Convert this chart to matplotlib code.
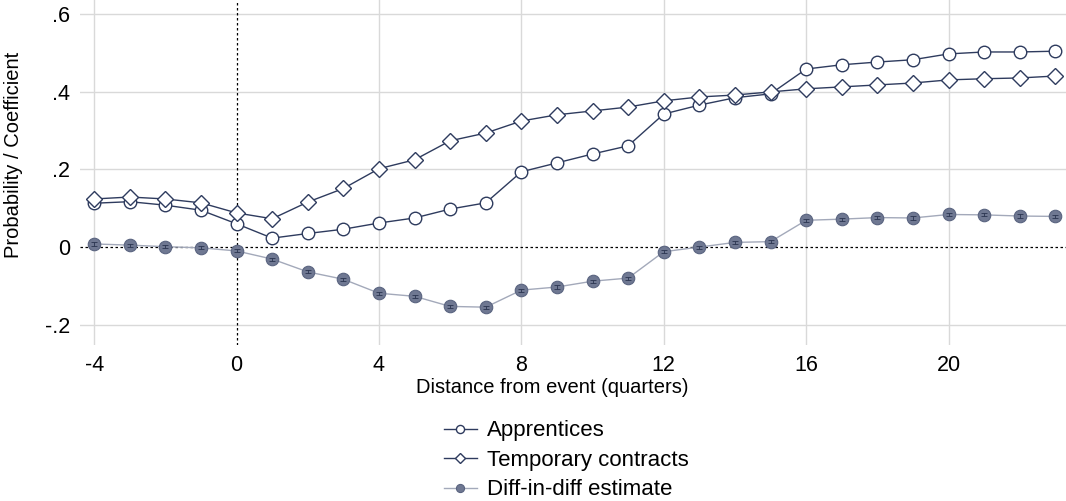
import numpy as np
import matplotlib.pyplot as plt

plt.rcParams['font.family'] = ['Liberation Sans', 'DejaVu Sans']
plt.rcParams['axes.unicode_minus'] = False

quarters = np.arange(-4, 24)

apprentices = [0.113, 0.117, 0.108, 0.095, 0.060, 0.023, 0.035, 0.046, 0.062, 0.075,
               0.098, 0.114, 0.194, 0.217, 0.240, 0.261, 0.343, 0.366, 0.385, 0.395,
               0.459, 0.470, 0.477, 0.483, 0.498, 0.503, 0.503, 0.505]
temporary = [0.124, 0.129, 0.124, 0.114, 0.088, 0.073, 0.116, 0.151, 0.202, 0.225,
             0.274, 0.294, 0.325, 0.341, 0.351, 0.361, 0.377, 0.387, 0.392, 0.400,
             0.408, 0.413, 0.418, 0.423, 0.431, 0.434, 0.436, 0.441]
did = [0.008, 0.005, 0.001, -0.002, -0.010, -0.031, -0.064, -0.083, -0.119, -0.127,
       -0.153, -0.155, -0.111, -0.103, -0.088, -0.080, -0.012, 0.000, 0.012, 0.014,
       0.069, 0.072, 0.076, 0.075, 0.084, 0.083, 0.080, 0.079]
did_se = [0.004] * len(did)

ytick_vals = [-0.2, 0, 0.2, 0.4, 0.6]
ytick_labels = ['-.2', '0', '.2', '.4', '.6']
xtick_vals = [-4, 0, 4, 8, 12, 16, 20]

navy = '#2e3b5e'

fig = plt.figure(figsize=(10.66, 5.01), dpi=100)
ax = fig.add_axes([0.075, 0.311, 0.925, 0.689])

ax.plot(quarters, apprentices, color=navy, lw=1.0, marker='o', ms=9,
        mfc='white', mec=navy, mew=1.0, label='Apprentices', zorder=3)
ax.plot(quarters, temporary, color=navy, lw=1.0, marker='D', ms=8.5,
        mfc='white', mec=navy, mew=1.0, label='Temporary contracts', zorder=3)
ax.plot(quarters, did, color='#a3a9ba', lw=1.0, marker='o', ms=9,
        mfc='#6f7892', mec='#5a6480', mew=0.8, label='Diff-in-diff estimate', zorder=3)
ax.errorbar(quarters, did, yerr=did_se, fmt='none', ecolor='#2a3450',
            elinewidth=0.6, capsize=2, capthick=0.6, zorder=4)

# reference lines at zero and at the event
ax.axhline(0, color='black', lw=0.9, ls=(0, (2, 2)), zorder=2)
ax.axvline(0, color='black', lw=0.9, ls=(0, (2, 2)), zorder=2)

ax.set_xlim(-4.4, 23.3)
ax.set_ylim(-0.253, 0.637)
ax.set_xticks(xtick_vals)
ax.set_yticks(ytick_vals)
ax.set_yticklabels(ytick_labels)
ax.tick_params(labelsize=15.5, length=0, pad=7)

for x in xtick_vals:
    if x != 0:
        ax.axvline(x, color='#d9d9d9', lw=1.0, zorder=1)
for y in ytick_vals:
    if y != 0:
        ax.axhline(y, color='#d9d9d9', lw=1.0, zorder=1)

for s in ax.spines.values():
    s.set_visible(False)

ax.set_xlabel('Distance from event (quarters)', fontsize=14.5)
ax.set_ylabel('Probability / Coefficient', fontsize=14.5)
ax.xaxis.set_label_coords(0.479, -0.095)
ax.yaxis.set_label_coords(-0.058, 0.55)

fig.legend(loc='upper center', bbox_to_anchor=(0.531, 0.183), frameon=False,
           fontsize=16, handlelength=1.5, handletextpad=0.45, labelspacing=0.38,
           markerscale=0.65, borderpad=0)

fig.savefig('out.png', dpi=100)
